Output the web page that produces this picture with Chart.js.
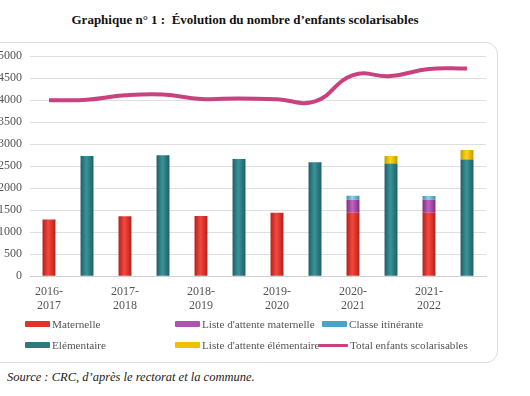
<!DOCTYPE html>
<html>
<head>
<meta charset="utf-8">
<script src="https://cdn.jsdelivr.net/npm/chart.js@4/dist/chart.umd.min.js"></script>
<style>
  body { margin: 0; width: 530px; height: 396px; background: #fff; overflow: hidden; position: relative; font-family: "Liberation Serif", "Times New Roman", serif; }
  #title { position: absolute; top: 12px; left: -40px; width: 570px; text-align: center; font-weight: bold; font-size: 13px; color: #111; }
  #box { position: absolute; left: -14px; top: 42px; width: 510px; height: 319px; border: 1px solid #dcdcdc; border-radius: 12px; }
  #chart { position: absolute; left: -10px; top: 41px; }
  #legend { position: absolute; left: 25px; top: 318px; width: 470px; display: grid; grid-template-columns: 150px 147px 172px; row-gap: 9px; font-size: 11.2px; color: #555; }
  #legend div { display: flex; align-items: center; white-space: nowrap; }
  #legend span.sw { display: inline-block; width: 25px; height: 6px; margin-right: 2px; border-radius: 1px; }
  #source { position: absolute; left: 7px; top: 370px; font-style: italic; font-size: 12.5px; color: #222; }
</style>
</head>
<body>
<div id="title">Graphique n° 1 :&nbsp; Évolution du nombre d’enfants scolarisables</div>
<div id="box"></div>
<canvas id="chart" width="506" height="280"></canvas>
<div id="legend"></div>
<div id="source">Source : CRC, d’après le rectorat et la commune.</div>
<script>
// two bars per school year: maternelle stack then élémentaire stack
const categories = [['2016-', '2017'], '', ['2017-', '2018'], '', ['2018-', '2019'], '', ['2019-', '2020'], '', ['2020-', '2021'], '', ['2021-', '2022'], ''];
const maternelle = [1290, null, 1360, null, 1370, null, 1440, null, 1440, null, 1440, null];
const attenteMaternelle = [null, null, null, null, null, null, null, null, 300, null, 300, null];
const classeItinerante = [null, null, null, null, null, null, null, null, 90, null, 80, null];
const elementaire = [null, 2730, null, 2750, null, 2665, null, 2590, null, 2560, null, 2650];
const attenteElementaire = [null, null, null, null, null, null, null, null, null, 170, null, 220];
const totalEnfants = [4000, 4010, 4110, 4130, 4030, 4040, 4020, 3975, 4570, 4550, 4710, 4720];
const yTicks = [0, 500, 1000, 1500, 2000, 2500, 3000, 3500, 4000, 4500, 5000];

const serif = "'Liberation Serif', 'Times New Roman', serif";

// bar fill: dark edges, light centre, like the 3D bars of the original
function shade(dark, light) {
  return function(ctx) {
    const chart = ctx.chart;
    if (!chart.chartArea) return light;
    const x = chart.scales.x.getPixelForValue(ctx.dataIndex);
    const w = 13;
    const g = chart.ctx.createLinearGradient(x - w / 2, 0, x + w / 2, 0);
    g.addColorStop(0, dark);
    g.addColorStop(0.45, light);
    g.addColorStop(1, dark);
    return g;
  };
}

const bar = { barPercentage: 0.34, categoryPercentage: 1, stack: 'bars', borderWidth: 0 };

const chart = new Chart('chart', {
  type: 'bar',
  data: {
    labels: categories,
    datasets: [
      Object.assign({ label: 'Maternelle', data: maternelle, backgroundColor: shade('#b5201b', '#f4483e'), legendColor: '#e0332b' }, bar),
      Object.assign({ label: "Liste d'attente maternelle", data: attenteMaternelle, backgroundColor: shade('#7d2f7d', '#c263c2'), legendColor: '#b052b0' }, bar),
      Object.assign({ label: 'Classe itinérante', data: classeItinerante, backgroundColor: shade('#3a8fb0', '#8fd4ea'), legendColor: '#4aa3c8' }, bar),
      Object.assign({ label: 'Elémentaire', data: elementaire, backgroundColor: shade('#1f5f66', '#3a939a'), legendColor: '#2c7a80' }, bar),
      Object.assign({ label: "Liste d'attente élémentaire", data: attenteElementaire, backgroundColor: shade('#c99a00', '#ffd51c'), legendColor: '#f0c000' }, bar),
      {
        type: 'line', label: 'Total enfants scolarisables', data: totalEnfants, stack: 'total',
        borderColor: '#c9427f', backgroundColor: '#c9427f', legendColor: '#c9427f',
        borderWidth: 4, tension: 0.45, pointRadius: 0, fill: false
      }
    ]
  },
  options: {
    responsive: false,
    animation: false,
    layout: { padding: { top: 3, right: 10, left: 0, bottom: 0 } },
    plugins: { legend: { display: false }, tooltip: { enabled: false } },
    scales: {
      x: {
        stacked: true,
        grid: { display: false, drawTicks: false },
        border: { color: '#d0d0d0' },
        ticks: { autoSkip: false, maxRotation: 0, color: '#555', padding: 8, font: { family: serif, size: 12 } }
      },
      y: {
        stacked: true,
        min: 0, max: 5000,
        afterBuildTicks: function(axis) { axis.ticks = yTicks.map(v => ({ value: v })); },
        grid: { color: '#dedede', drawTicks: false },
        border: { display: false },
        ticks: { color: '#555', padding: 8, font: { family: serif, size: 12 }, callback: v => String(v) }
      }
    }
  }
});

// legend in three columns, built from the chart's datasets
const legend = document.getElementById('legend');
chart.data.datasets.forEach(function(ds) {
  const d = document.createElement('div');
  const sw = document.createElement('span');
  sw.className = 'sw';
  sw.style.background = ds.legendColor;
  if (ds.type === 'line') { sw.style.height = '3px'; sw.style.width = '30px'; sw.style.marginLeft = '-4px'; }
  d.appendChild(sw);
  d.appendChild(document.createTextNode(ds.label));
  legend.appendChild(d);
});
</script>
</body>
</html>
